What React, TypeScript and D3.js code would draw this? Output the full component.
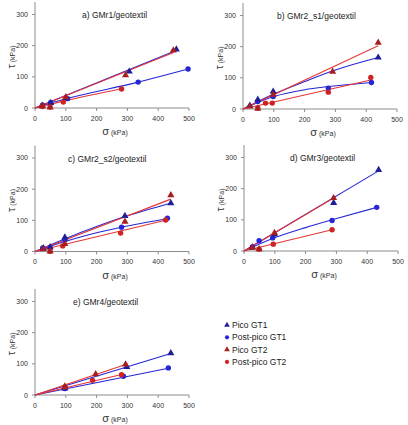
import React from "react";
import * as d3 from "d3";

// one entry per panel (a..e)
const panelTitles = [
  "a) GMr1/geotextil",
  "b) GMr2_s1/geotextil",
  "c) GMr2_s2/geotextil",
  "d) GMr3/geotextil",
  "e) GMr4/geotextil",
];
const xTicks = [0, 100, 200, 300, 400, 500];
const yTicks = [0, 100, 200, 300];

const legendLabels = ["Pico GT1", "Post-pico GT1", "Pico GT2", "Post-pico GT2"];

// measured points [sigma, tau] per panel
const picoGT1 = [
  [[24, 8], [51, 16], [100, 32], [306, 117], [459, 188]],
  [[22, 11], [48, 30], [98, 56], [439, 165]],
  [[27, 11], [49, 14], [97, 45], [292, 114], [441, 155]],
  [[27, 12], [99, 53], [291, 154], [437, 260]],
  [[97, 21], [298, 90], [441, 134]],
];
const postGT1 = [
  [[24, 9], [51, 18], [106, 30], [335, 83], [497, 125]],
  [[48, 24], [98, 40], [277, 67], [417, 85]],
  [[25, 11], [49, 11], [97, 37], [281, 78], [430, 107]],
  [[27, 13], [49, 33], [93, 42], [286, 98], [431, 140]],
  [[97, 21], [287, 60], [433, 87]],
];
const picoGT2 = [
  [[24, 6], [49, 2], [100, 35], [294, 105], [449, 185]],
  [[22, 8], [48, 1], [98, 46], [291, 120], [439, 213]],
  [[27, 8], [49, 0], [97, 24], [292, 96], [441, 181]],
  [[27, 11], [49, 6], [99, 58], [291, 170]],
  [[97, 28], [197, 67], [294, 98]],
];
const postGT2 = [
  [[24, 5], [49, 3], [92, 19], [281, 61]],
  [[48, 3], [73, 19], [95, 19], [277, 54], [415, 101]],
  [[49, 1], [90, 18], [278, 59], [424, 101]],
  [[49, 6], [95, 22], [286, 68]],
  [[97, 26], [187, 47], [281, 65]],
];

// trend lines [sigma, tau]
const picoGT1Fit = [
  [[0, 0], [462, 186]],
  [[0, 0], [50, 25], [100, 48], [200, 88], [300, 125], [439, 165]],
  [[0, 0], [100, 42], [200, 80], [292, 112], [441, 155]],
  [[0, 0], [437, 257]],
  [[0, 0], [441, 133]],
];
const postGT1Fit = [
  [[0, 0], [50, 16], [106, 31], [335, 83], [497, 125]],
  [[0, 0], [50, 22], [100, 40], [200, 62], [277, 72], [417, 85]],
  [[0, 0], [100, 33], [200, 60], [281, 78], [430, 105]],
  [[0, 0], [93, 40], [200, 75], [286, 100], [431, 140]],
  [[0, 0], [433, 86]],
];
const picoGT2Fit = [
  [[0, 0], [450, 178]],
  [[0, 0], [439, 203]],
  [[0, 0], [441, 168]],
  [[0, 0], [291, 170]],
  [[0, 0], [294, 98]],
];
const postGT2Fit = [
  [[0, 0], [92, 22], [281, 62]],
  [[0, 0], [415, 93]],
  [[0, 0], [424, 100]],
  [[0, 0], [286, 68]],
  [[0, 0], [281, 66]],
];

const BLUE_LINE = "#2626d6";
const BLUE_MARK = "#1e1e9a";
const RED_LINE = "#e63535";
const RED_TRI = "#a81e1e";
const RED_DOT = "#cc2424";
const FONT = "'Liberation Sans', Arial, sans-serif";

// origins of each plot (pixel position of sigma=0, tau=0)
const origins = [
  [35, 108],
  [243, 109],
  [35, 251.5],
  [244, 251],
  [35, 395],
];
const titleX = [47, 34, 33, 46, 38];
const plotW = 154;
const plotH = 106;

const triPath = d3.symbol(d3.symbolTriangle, 22)();

const Panel = ({ i }) => {
  const [ox, oy] = origins[i];
  const x = d3.scaleLinear().domain([0, 500]).range([ox, ox + plotW]);
  const y = d3.scaleLinear().domain([0, 340]).range([oy, oy - plotH]);
  const line = d3
    .line()
    .x((d) => x(d[0]))
    .y((d) => y(d[1]))
    .curve(d3.curveMonotoneX);

  const fits = [
    [postGT1Fit[i], BLUE_LINE],
    [picoGT1Fit[i], BLUE_LINE],
    [postGT2Fit[i], RED_LINE],
    [picoGT2Fit[i], RED_LINE],
  ];

  return (
    <g>
      {/* axes */}
      <line x1={ox} x2={ox} y1={oy} y2={oy - plotH} stroke="#8c8c8c" />
      <line x1={ox} x2={ox + plotW} y1={oy} y2={oy} stroke="#8c8c8c" />
      {xTicks.map((t) => (
        <g key={"x" + t}>
          <line x1={x(t)} x2={x(t)} y1={oy} y2={oy + 3} stroke="#8c8c8c" />
          <text
            x={x(t)}
            y={oy + 12.5}
            textAnchor="middle"
            fontSize={7}
            fill="#333"
            fontFamily={FONT}
          >
            {t}
          </text>
        </g>
      ))}
      {yTicks.map((t) => (
        <g key={"y" + t}>
          <line x1={ox - 3} x2={ox} y1={y(t)} y2={y(t)} stroke="#8c8c8c" />
          <text
            x={ox - 7}
            y={y(t) + 2.5}
            textAnchor="end"
            fontSize={7}
            fill="#333"
            fontFamily={FONT}
          >
            {t}
          </text>
        </g>
      ))}
      <text
        x={ox + 80}
        y={oy + 27}
        textAnchor="middle"
        fill="#333"
        fontFamily={FONT}
      >
        <tspan fontSize={11}>σ</tspan>
        <tspan fontSize={7}> (kPa)</tspan>
      </text>
      <text
        transform={`translate(${ox - 20},${oy - 51}) rotate(-90)`}
        textAnchor="middle"
        fill="#333"
        fontFamily={FONT}
      >
        <tspan fontSize={11}>τ</tspan>
        <tspan fontSize={7}> (kPa)</tspan>
      </text>
      <text
        x={ox + titleX[i]}
        y={oy - 90}
        fontSize={8.5}
        fill="#222"
        fontFamily={FONT}
      >
        {panelTitles[i]}
      </text>

      {/* trend lines */}
      {fits.map(([pts, c], k) => (
        <path key={"f" + k} d={line(pts)} fill="none" stroke={c} strokeWidth={1.1} />
      ))}

      {/* markers */}
      {postGT1[i].map((d, k) => (
        <circle key={"b" + k} cx={x(d[0])} cy={y(d[1])} r={2.7} fill={BLUE_LINE} />
      ))}
      {picoGT1[i].map((d, k) => (
        <path key={"bt" + k} d={triPath} transform={`translate(${x(d[0])},${y(d[1])})`} fill={BLUE_MARK} />
      ))}
      {postGT2[i].map((d, k) => (
        <circle key={"r" + k} cx={x(d[0])} cy={y(d[1])} r={2.7} fill={RED_DOT} />
      ))}
      {picoGT2[i].map((d, k) => (
        <path key={"rt" + k} d={triPath} transform={`translate(${x(d[0])},${y(d[1])})`} fill={RED_TRI} />
      ))}
    </g>
  );
};

const Legend = () => {
  const items = [
    ["tri", BLUE_MARK],
    ["dot", BLUE_LINE],
    ["tri", RED_TRI],
    ["dot", RED_DOT],
  ];
  return (
    <g>
      {legendLabels.map((lab, k) => {
        const yy = 325 + k * 12.3;
        const [kind, c] = items[k];
        return (
          <g key={lab}>
            {kind === "tri" ? (
              <path d={d3.symbol(d3.symbolTriangle, 14)()} transform={`translate(227,${yy})`} fill={c} />
            ) : (
              <circle cx={227} cy={yy} r={2.1} fill={c} />
            )}
            <text x={232} y={yy + 3} fontSize={8.5} fill="#222" fontFamily={FONT}>
              {lab}
            </text>
          </g>
        );
      })}
    </g>
  );
};

export default function App() {
  return (
    <svg
      width={408}
      height={425}
      style={{ position: "absolute", left: 0, top: 0, background: "#fff" }}
    >
      {panelTitles.map((_, i) => (
        <Panel key={i} i={i} />
      ))}
      <Legend />
    </svg>
  );
}
